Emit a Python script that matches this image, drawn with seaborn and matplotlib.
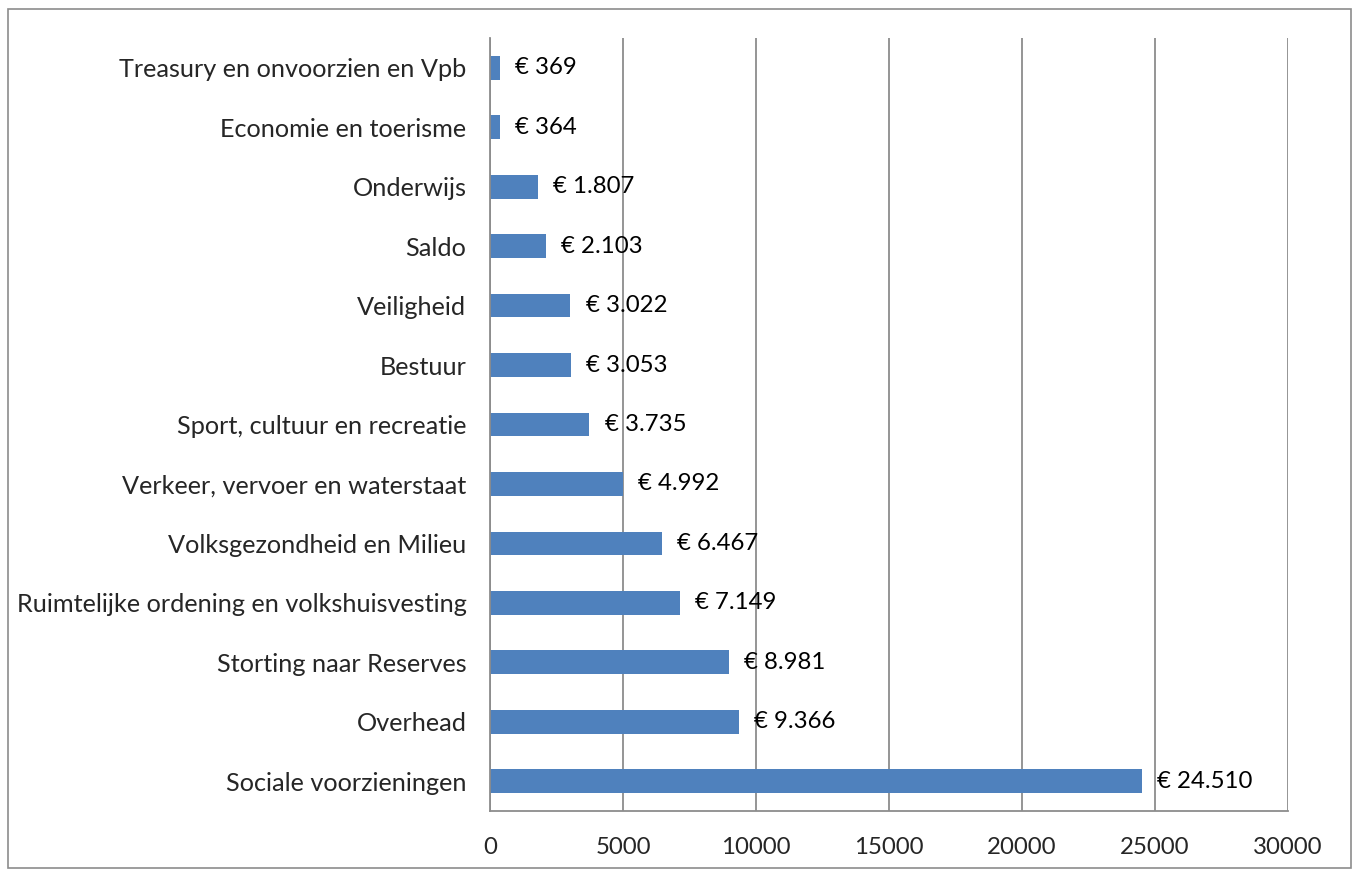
import pandas as pd
import matplotlib.pyplot as plt
import seaborn as sns

# Budget per category (x 1000 euro), top to bottom as shown
categories = [
    "Treasury en onvoorzien en Vpb",
    "Economie en toerisme",
    "Onderwijs",
    "Saldo",
    "Veiligheid",
    "Bestuur",
    "Sport, cultuur en recreatie",
    "Verkeer, vervoer en waterstaat",
    "Volksgezondheid en Milieu",
    "Ruimtelijke ordening en volkshuisvesting",
    "Storting naar Reserves",
    "Overhead",
    "Sociale voorzieningen",
]
values = [369, 364, 1807, 2103, 3022, 3053, 3735, 4992, 6467, 7149, 8981, 9366, 24510]
x_ticks = [0, 5000, 10000, 15000, 20000, 25000, 30000]

df = pd.DataFrame({"categorie": categories, "bedrag": values})

sns.set_style("white")
plt.rcParams["font.family"] = ["Lato", "DejaVu Sans"]

fs = 18.2
fs_small = 17.3
fig = plt.figure(figsize=(13.57, 8.75), dpi=100)
ax = fig.add_axes([490 / 1357, 1 - 811 / 875, 798 / 1357, (811 - 38) / 875])

sns.barplot(data=df, x="bedrag", y="categorie", color="#4F81BD", saturation=1,
            width=0.4, orient="h", linewidth=0, ax=ax)

grid_col = "#8C8C8C"
ax.set_xlim(0, 30000)
ax.set_ylim(len(categories) - 0.5, -0.5)
ax.set_xticks(x_ticks)
ax.set_xticklabels([str(t) for t in x_ticks], fontsize=fs_small)
ax.xaxis.grid(True, color=grid_col, linewidth=1.3)
ax.set_axisbelow(True)

# category ticks at boundaries
ax.set_yticks(range(len(categories)))
ax.set_yticklabels(categories, fontsize=fs)
ax.set_yticks([i - 0.5 for i in range(len(categories) + 1)], minor=True)
ax.tick_params(axis="y", which="major", length=0, pad=17)
ax.tick_params(axis="y", which="minor", length=6, color=grid_col, width=1.3)
ax.tick_params(axis="x", length=6, color=grid_col, width=1.3, pad=13)

ax.set_xlabel("")
ax.set_ylabel("")
for side in ["top", "right"]:
    ax.spines[side].set_visible(False)
for side in ["left", "bottom"]:
    ax.spines[side].set_color(grid_col)
    ax.spines[side].set_linewidth(1.3)

for i, v in enumerate(values):
    label = "€ " + f"{v:,}".replace(",", ".")
    ax.annotate(label, (v, i), xytext=(11, 0), textcoords="offset points",
                va="center", ha="left", fontsize=fs_small, color="black")

# outer frame
fig.patches.append(plt.Rectangle((8 / 1357, 1 - 868 / 875), 1343 / 1357, 859 / 875,
                                 transform=fig.transFigure, fill=False,
                                 edgecolor="#8C8C8C", linewidth=1.2))

fig.savefig("out.png", dpi=100)
